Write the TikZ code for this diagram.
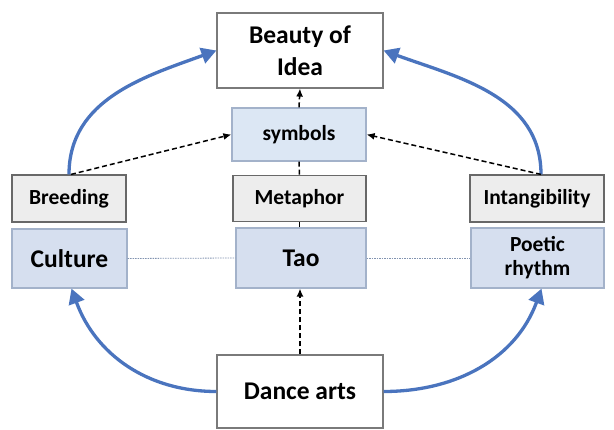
\documentclass[tikz,border=0pt]{standalone}
\usepackage{fontspec}
\setmainfont{Carlito}
\usetikzlibrary{arrows.meta}
\definecolor{arrowblue}{HTML}{4A74BE}
\definecolor{symblue}{HTML}{DCE7F4}
\definecolor{midblue}{HTML}{D6DFEF}
\definecolor{boxgray}{HTML}{EDEDED}
\definecolor{edgegray}{HTML}{7A7A7A}
\definecolor{blueedge}{HTML}{A3B2CA}
\definecolor{dotline}{HTML}{8193B0}
\begin{document}
\begin{tikzpicture}[x=1pt,y=1pt,
  box/.style={rectangle, draw=edgegray, line width=1.2pt, align=center, inner sep=0pt, font=\bfseries},
  whitebox/.style={box, fill=white},
  graybox/.style={box, fill=boxgray, draw=edgegray!85!black},
  bluebox/.style={box, fill=midblue, draw=blueedge},
  symbox/.style={box, fill=symblue, draw=blueedge},
  bigtext/.style={font=\bfseries\fontsize{25.5}{32}\selectfont},
  smalltext/.style={font=\bfseries\fontsize{21.5}{24}\selectfont},
  bluearrow/.style={draw=arrowblue, line width=3.3pt, -{Triangle[length=15pt,width=16pt]}},
  dasharrow/.style={draw=black, line width=1.5pt, dash pattern=on 5pt off 3pt, -{Latex[length=8pt,width=7pt]}},
  dashline/.style={draw=black, line width=1.5pt, dash pattern=on 5pt off 3pt},
  dotted link/.style={draw=dotline, line width=0.8pt, dash pattern=on 1.5pt off 1pt}
]
\useasboundingbox (0,0) rectangle (614,429);

\node[whitebox, bigtext, minimum width=166pt, minimum height=75pt] (beauty) at (300,378.5) {Beauty of\\Idea};
\node[symbox, smalltext, minimum width=134pt, minimum height=53pt] (symbols) at (299,294.5) {symbols};
\node[graybox, smalltext, minimum width=133pt, minimum height=46pt] (metaphor) at (299.5,230.5) {Metaphor};
\node[bluebox, bigtext, minimum width=130pt, minimum height=60pt] (tao) at (301,171) {Tao};
\node[graybox, smalltext, minimum width=114pt, minimum height=47pt] (breeding) at (69,230.5) {Breeding};
\node[bluebox, bigtext, minimum width=115pt, minimum height=59pt] (culture) at (69.5,170.5) {Culture};
\node[graybox, smalltext, minimum width=134pt, minimum height=47pt] (intang) at (537,230.5) {Intangibility};
\node[bluebox, smalltext, minimum width=133pt, minimum height=60pt] (poetic) at (537.5,171) {Poetic\\rhythm};
\node[whitebox, bigtext, minimum width=166pt, minimum height=73pt] (dance) at (300,37.5) {Dance arts};

% blue curved arrows
\draw[bluearrow] (breeding.north) to[out=90,in=200] (beauty.west);
\draw[bluearrow] ([xshift=4pt]intang.north) to[out=90,in=-20] (beauty.east);
\draw[bluearrow] (dance.west) to[out=180,in=-70] ([xshift=2pt]culture.south);
\draw[bluearrow] (dance.east) to[out=0,in=-110] ([xshift=4pt]poetic.south);

% dashed connectors
\draw[dasharrow] ([xshift=2pt]breeding.north) -- (symbols.west);
\draw[dasharrow] ([xshift=4pt]intang.north) -- (symbols.east);
\draw[dasharrow] (symbols.north) -- (beauty.south);
\draw[dashline] (symbols.south) -- (metaphor.north);
\draw[dashline] (metaphor.south) -- (metaphor.south |- tao.north);
\draw[dasharrow] (dance.north) -- (dance.north |- tao.south);

% dotted links
\draw[dotted link] (culture.east) -- (tao.west);
\draw[dotted link] (tao.east) -- (poetic.west);
\end{tikzpicture}
\end{document}
